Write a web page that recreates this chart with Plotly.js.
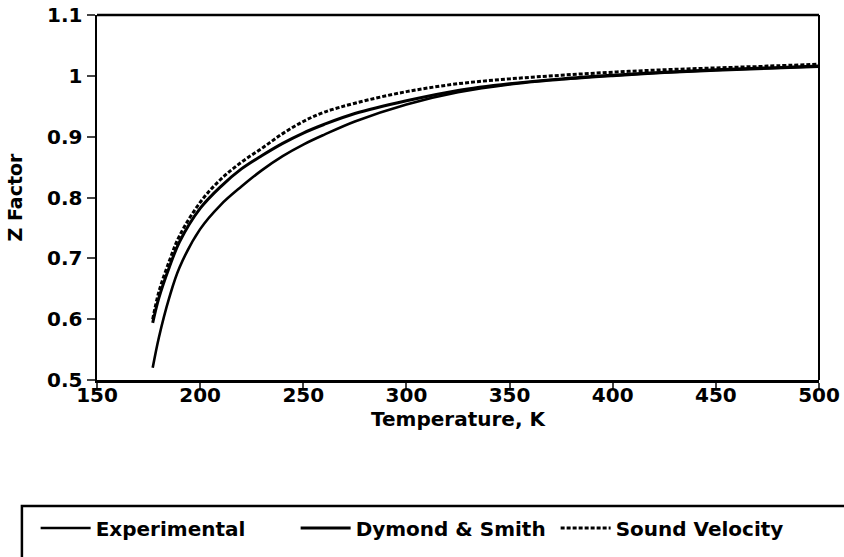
<!DOCTYPE html>
<html>
<head>
<meta charset="utf-8">
<script src="https://cdn.plot.ly/plotly-3.0.1.min.js"></script>
<style>html,body{margin:0;padding:0;background:#fff;}#chart{width:844px;height:557px;}</style>
</head>
<body>
<div id="chart"></div>
<script>
// Temperature grid, K
var temps = [177, 180, 185, 190, 200, 210, 220, 230, 240, 250, 260, 275, 300, 325, 350, 375, 400, 425, 450, 475, 500];
// Z factor series
var experimental  = [0.52, 0.57, 0.635, 0.685, 0.748, 0.788, 0.818, 0.845, 0.868, 0.887, 0.903, 0.925, 0.953, 0.973, 0.986, 0.994, 1.0, 1.005, 1.009, 1.012, 1.015];
var dymondSmith   = [0.594, 0.635, 0.685, 0.727, 0.782, 0.818, 0.847, 0.869, 0.889, 0.906, 0.92, 0.938, 0.959, 0.976, 0.987, 0.995, 1.001, 1.006, 1.01, 1.013, 1.016];
var soundVelocity = [0.60, 0.645, 0.695, 0.737, 0.792, 0.83, 0.858, 0.881, 0.905, 0.925, 0.94, 0.955, 0.974, 0.987, 0.995, 1.001, 1.006, 1.01, 1.013, 1.016, 1.019];
var seriesNames = ["Experimental", "Dymond &amp; Smith", "Sound Velocity"];
var xTicks = [150, 200, 250, 300, 350, 400, 450, 500];
var yTicks = [0.5, 0.6, 0.7, 0.8, 0.9, 1, 1.1];
var yTickText = ["0.5", "0.6", "0.7", "0.8", "0.9", "1", "1.1"];

var F = "DejaVu Sans, sans-serif";
var traces = [
  {x: temps, y: experimental, name: seriesNames[0], mode: "lines", line: {color: "#000", width: 2.6, shape: "spline"}},
  {x: temps, y: dymondSmith, name: seriesNames[1], mode: "lines", line: {color: "#000", width: 3, shape: "spline"}},
  {x: temps, y: soundVelocity, name: seriesNames[2], mode: "lines", line: {color: "#000", width: 3, dash: "4px,2px", shape: "spline"}}
];

var layout = {
  width: 844, height: 557,
  margin: {l: 97, r: 25, t: 15, b: 177, autoexpand: false},
  paper_bgcolor: "#fff", plot_bgcolor: "#fff",
  font: {family: F, color: "#000", size: 20, weight: "bold"},
  xaxis: {
    range: [150, 500], tickvals: xTicks, ticks: "outside", ticklen: 6, tickwidth: 2,
    ticklabelstandoff: -11,
    showline: true, linecolor: "#000", linewidth: 2.5, showgrid: false, zeroline: false,
    tickfont: {family: F, size: 20, weight: "bold"},
    title: {text: "Temperature, K", font: {family: F, size: 20, weight: "bold"}, standoff: 7},
    automargin: false
  },
  yaxis: {
    range: [0.5, 1.1], tickvals: yTicks, ticktext: yTickText, ticks: "outside", ticklen: 8, tickwidth: 2,
    showline: true, linecolor: "#000", linewidth: 2.5, showgrid: false, zeroline: false,
    tickfont: {family: F, size: 20, weight: "bold"},
    title: {text: "Z Factor", font: {family: F, size: 19, weight: "bold"}, standoff: 20},
    automargin: false
  },
  shapes: [
    {type: "line", xref: "paper", yref: "paper", x0: 0, x1: 1, y0: 1, y1: 1, line: {color: "#000", width: 2.5}},
    {type: "line", xref: "paper", yref: "paper", x0: 1, x1: 1, y0: 0, y1: 1, line: {color: "#000", width: 2}},
    {type: "rect", xref: "paper", yref: "paper", x0: -0.104, x1: 1.04, y0: -0.345, y1: -0.55, line: {color: "#000", width: 2.5}, fillcolor: "rgba(0,0,0,0)"}
  ],
  showlegend: true,
  legend: {
    orientation: "h", x: -0.085, xanchor: "left", y: -0.352, yanchor: "top",
    itemwidth: 50, entrywidth: 195, entrywidthmode: "pixels",
    font: {family: F, size: 20, weight: "bold"}, bgcolor: "rgba(0,0,0,0)", borderwidth: 0,
    traceorder: "normal"
  }
};

Plotly.newPlot("chart", traces, layout, {displayModeBar: false, staticPlot: true});
</script>
</body>
</html>
